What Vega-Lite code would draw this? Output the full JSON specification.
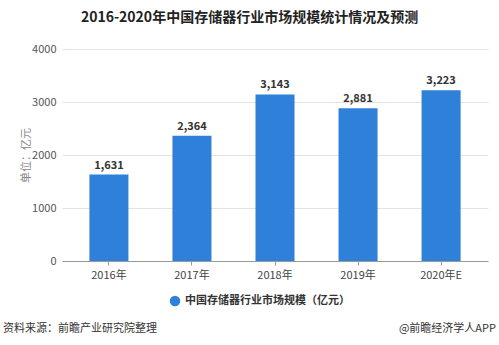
{
  "$schema": "https://vega.github.io/schema/vega-lite/v6.json",
  "background": "white",
  "padding": {"left": 3, "right": 3, "top": 11, "bottom": 5},
  "title": {"text": "2016-2020年中国存储器行业市场规模统计情况及预测", "fontSize": 14, "fontWeight": "bold", "color": "#222222", "anchor": "middle", "offset": 18, "font": "Noto Sans CJK SC"},
  "config": {"font": "Noto Sans CJK SC", "view": {"stroke": null}, "concat": {"spacing": 40}},
  "vconcat": [
    {
      "width": 426,
      "height": 212,
      "data": {"values": [
        {"year": "2016年", "value": 1631, "series": "中国存储器行业市场规模（亿元）"},
        {"year": "2017年", "value": 2364, "series": "中国存储器行业市场规模（亿元）"},
        {"year": "2018年", "value": 3143, "series": "中国存储器行业市场规模（亿元）"},
        {"year": "2019年", "value": 2881, "series": "中国存储器行业市场规模（亿元）"},
        {"year": "2020年E", "value": 3223, "series": "中国存储器行业市场规模（亿元）"}
      ]},
      "encoding": {
        "x": {"field": "year", "type": "nominal", "sort": null, "scale": {"paddingInner": 0.53, "paddingOuter": 0.33},
          "axis": {"title": null, "labelAngle": 0, "labelFontSize": 11, "labelColor": "#444444", "labelPadding": 4, "domainColor": "#999999", "tickColor": "#999999", "tickSize": 4, "ticks": true, "grid": false}},
        "y": {"field": "value", "type": "quantitative", "scale": {"domain": [0, 4000]},
          "axis": {"title": "单位：亿元", "titleColor": "#888888", "titleFontWeight": "normal", "titleFontSize": 11, "titlePadding": 0, "values": [0, 1000, 2000, 3000, 4000], "format": "d", "labelFontSize": 11, "labelColor": "#555555", "labelPadding": 6, "domain": false, "ticks": false, "gridColor": "#e3e3e3"}}
      },
      "layer": [
        {"mark": {"type": "bar", "color": "#2f80d8"},
         "encoding": {"color": {"field": "series", "type": "nominal", "scale": {"range": ["#2f80d8"]},
           "legend": {"title": null, "orient": "none", "legendX": 107, "legendY": 246, "direction": "horizontal", "symbolType": "circle", "symbolSize": 110, "labelFontSize": 11, "labelFontWeight": "bold", "labelColor": "#333333", "labelLimit": 0}}}},
        {"mark": {"type": "text", "dy": -9, "fontSize": 11, "fontWeight": "bold", "color": "#333333"},
         "encoding": {"text": {"field": "value", "type": "quantitative", "format": ","}}}
      ]
    },
    {
      "width": 434,
      "height": 18,
      "data": {"values": [
        {"side": "left", "text": "资料来源：前瞻产业研究院整理"},
        {"side": "right", "text": "@前瞻经济学人APP"}
      ]},
      "encoding": {
        "x": {"field": "side", "type": "nominal", "scale": {"type": "point", "domain": ["left", "right"], "padding": 0}, "axis": null},
        "text": {"field": "text"}
      },
      "layer": [
        {"transform": [{"filter": "datum.side == 'left'"}], "mark": {"type": "text", "align": "left", "dx": -59, "fontSize": 11, "color": "#333333"}},
        {"transform": [{"filter": "datum.side == 'right'"}], "mark": {"type": "text", "align": "right", "fontSize": 11, "color": "#333333"}}
      ]
    }
  ]
}
